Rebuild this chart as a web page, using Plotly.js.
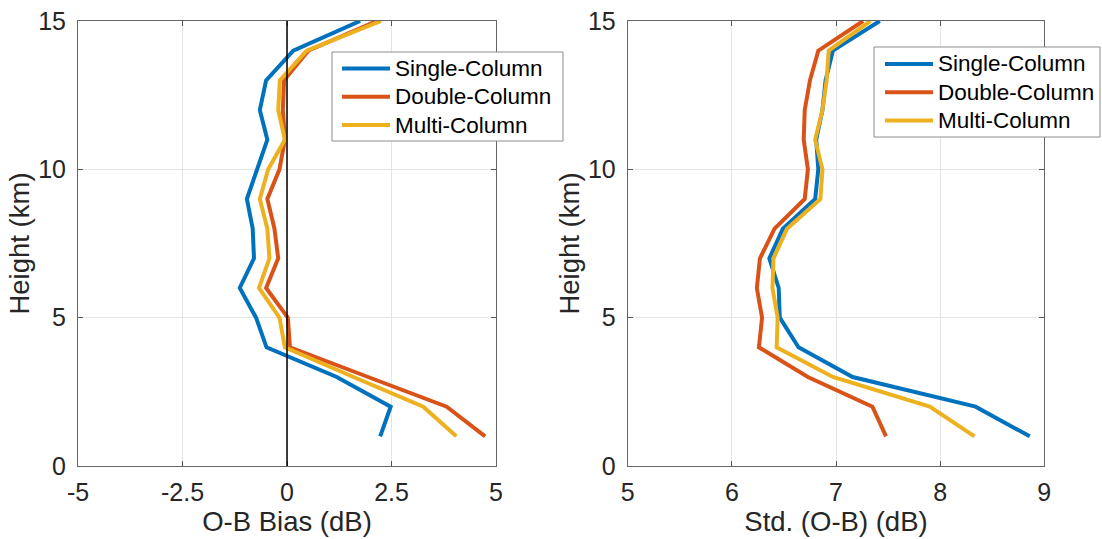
<!DOCTYPE html>
<html>
<head>
<meta charset="utf-8">
<script src="https://cdn.plot.ly/plotly-3.0.1.min.js"></script>
<style>
  html, body { margin: 0; padding: 0; background: #fff; }
  #chart { width: 1102px; height: 539px; }
</style>
</head>
<body>
<div id="chart"></div>
<script>
// Height levels (km)
const heightKm = [1, 2, 3, 4, 5, 6, 7, 8, 9, 10, 11, 12, 13, 14, 15];

// Series names
const seriesNames = ['Single-Column', 'Double-Column', 'Multi-Column'];

// O-B bias profiles (dB)
const biasSingle = [2.23, 2.48, 1.19, -0.49, -0.74, -1.13, -0.79, -0.82, -0.96, -0.71, -0.47, -0.65, -0.50, 0.15, 1.75];
const biasDouble = [4.74, 3.82, 1.94, 0.07, 0.02, -0.50, -0.21, -0.30, -0.47, -0.18, -0.05, -0.10, -0.07, 0.51, 2.15];
const biasMulti  = [4.05, 3.26, 1.59, -0.05, -0.18, -0.67, -0.42, -0.47, -0.65, -0.45, -0.05, -0.21, -0.17, 0.47, 2.25];

// Std. (O-B) profiles (dB)
const stdSingle = [8.86, 8.34, 7.16, 6.64, 6.46, 6.45, 6.36, 6.49, 6.80, 6.83, 6.81, 6.87, 6.90, 6.97, 7.42];
const stdDouble = [7.48, 7.35, 6.73, 6.26, 6.29, 6.24, 6.27, 6.41, 6.70, 6.73, 6.69, 6.70, 6.75, 6.83, 7.26];
const stdMulti  = [8.33, 7.90, 6.97, 6.43, 6.44, 6.39, 6.40, 6.53, 6.85, 6.87, 6.80, 6.87, 6.91, 6.93, 7.33];

// Axis ticks
const biasTicks = [-5, -2.5, 0, 2.5, 5];
const stdTicks = [5, 6, 7, 8, 9];
const heightTicks = [0, 5, 10, 15];

const colors = ['#0072BD', '#D95319', '#EDB120'];
const FONT = 'Liberation Sans, Arial, Helvetica, sans-serif';
const TXT = '#262626';
const W = 1102, H = 539;

const biasSeries = [biasSingle, biasDouble, biasMulti];
const stdSeries = [stdSingle, stdDouble, stdMulti];

const traces = [];
biasSeries.forEach((vals, i) => {
  traces.push({
    x: vals, y: heightKm, type: 'scatter', mode: 'lines',
    name: seriesNames[i], xaxis: 'x', yaxis: 'y', showlegend: false,
    line: { color: colors[i], width: 4 }
  });
});
stdSeries.forEach((vals, i) => {
  traces.push({
    x: vals, y: heightKm, type: 'scatter', mode: 'lines',
    name: seriesNames[i], xaxis: 'x2', yaxis: 'y2', showlegend: false,
    line: { color: colors[i], width: 4 }
  });
});

function common() {
  return {
    ticks: 'inside', ticklen: 5, tickcolor: '#555', tickwidth: 1,
    showline: true, linecolor: '#666', linewidth: 1, mirror: 'ticks',
    showgrid: true, gridcolor: '#e4e4e4', gridwidth: 1, zeroline: false,
    tickfont: { family: FONT, size: 25, color: TXT },
    automargin: false, fixedrange: true
  };
}
function xAxis(domain, range, ticks, title) {
  return Object.assign(common(), {
    domain: domain, range: range, tickvals: ticks,
    ticktext: ticks.map(String), ticklabelstandoff: 4,
    title: { text: title, font: { family: FONT, size: 27.5, color: TXT }, standoff: 2 }
  });
}
function yAxis(anchor) {
  return Object.assign(common(), {
    domain: [1 - 466 / H, 1 - 21 / H], range: [0, 15], tickvals: heightTicks,
    anchor: anchor, ticklabelstandoff: 6,
    title: { text: 'Height (km)', font: { family: FONT, size: 27.5, color: TXT }, standoff: 0 }
  });
}

// Legend boxes drawn in paper space (pixel helpers)
const px = v => v / W;
const py = v => 1 - v / H;
const shapes = [{
  type: 'line', xref: 'x', yref: 'y', x0: 0, x1: 0, y0: 0, y1: 15,
  line: { color: '#000000', width: 1.5 }, layer: 'above'
}];
const annotations = [];
function addLegend(box, lineX0, lineX1, textX, rowY) {
  shapes.push({
    type: 'rect', xref: 'paper', yref: 'paper',
    x0: px(box[0]), x1: px(box[1]), y0: py(box[2]), y1: py(box[3]),
    fillcolor: '#ffffff', line: { color: '#8c8c8c', width: 1 }, layer: 'above'
  });
  seriesNames.forEach((name, i) => {
    const yy = rowY + i * 28.3;
    shapes.push({
      type: 'line', xref: 'paper', yref: 'paper',
      x0: px(lineX0), x1: px(lineX1), y0: py(yy), y1: py(yy),
      line: { color: colors[i], width: 4 }, layer: 'above'
    });
    annotations.push({
      xref: 'paper', yref: 'paper', x: px(textX), y: py(yy),
      xanchor: 'left', yanchor: 'middle', showarrow: false,
      text: name, font: { family: FONT, size: 22.5, color: '#000' }
    });
  });
}
addLegend([332, 563, 52, 141], 342, 390, 393, 68.5);
addLegend([874, 1100, 47, 137], 885, 933, 936, 64);

const layout = {
  width: W, height: H,
  margin: { l: 0, r: 0, t: 0, b: 0 },
  paper_bgcolor: '#ffffff', plot_bgcolor: '#ffffff',
  showlegend: false,
  xaxis: xAxis([78 / W, 496 / W], [-5, 5], biasTicks, 'O-B Bias (dB)'),
  yaxis: yAxis('x'),
  xaxis2: xAxis([627.7 / W, 1044.3 / W], [5, 9], stdTicks, 'Std. (O-B) (dB)'),
  yaxis2: yAxis('x2'),
  shapes: shapes,
  annotations: annotations
};

Plotly.newPlot('chart', traces, layout, { staticPlot: true, displayModeBar: false });
</script>
</body>
</html>
